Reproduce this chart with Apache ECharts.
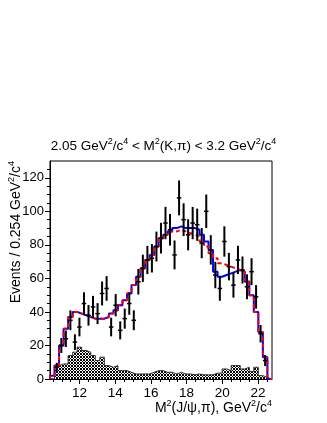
<!DOCTYPE html>
<html>
<head>
<meta charset="utf-8">
<title>M2(J/psi,pi)</title>
<style>
  html, body { margin: 0; padding: 0; background: #fff; }
  #main { width: 327px; height: 423px; }
</style>
</head>
<body>
<div id="main"></div>
<script src="https://cdn.jsdelivr.net/npm/echarts@6/dist/echarts.min.js"></script>
<script>
// binning of the histogram (GeV^2/c^4)
var binLow = 10.34;
var binWidth = 0.254;
var xMin = 10.34, xMax = 22.79;

// events per bin
var dataCounts = [0, 7, 20, 24, 35, 22, 31, 45, 38, 43, 39, 51, 54, 31, 44, 29, 36, 45, 35, 58,
                  66, 71, 72, 79, 84, 93, 89, 74, 108, 95, 86, 93, 92, 81, 100, 77, 62, 54, 82, 67,
                  56, 71, 65, 55, 64, 49, 27, 11, 0];
// total fit (blue, solid)
var fitBlue = [2, 8, 20, 30, 37, 40, 39, 38, 37, 36, 36, 36, 37, 39, 41, 44, 47, 51, 56, 61,
               66, 71, 74, 79, 84, 86, 88, 90, 91, 90, 90, 90, 89, 86, 82, 77, 64, 61, 62, 63,
               64, 65, 64, 58, 50, 40, 28, 13, 0];
// alternative fit (red, dashed)
var fitRed = [2, 8, 20, 30, 37, 40, 39, 38, 37, 36, 36, 36, 37, 39, 41, 44, 47, 51, 56, 61,
              66, 71, 74, 79, 84, 86, 88, 88, 89, 88, 87, 86, 85, 82, 79, 75, 72, 69, 68, 67,
              66, 65, 64, 59, 50, 40, 28, 13, 0];
// background (hatched)
var bkg = [0, 8, 9, 9, 14, 16, 19, 17, 16, 14, 11, 13, 8, 7, 8, 5, 5, 4, 3, 3,
           3, 3, 4, 5, 5, 4, 4, 3, 4, 3, 3, 2.5, 3, 2.5, 2.5, 2.5, 3.5, 3.5, 6, 5,
           8, 8, 6, 7, 4.5, 7, 2, 1, 0];

var xTicks = [12, 14, 16, 18, 20, 22];
var xMinorTicks = [10.5, 11, 11.5, 12.5, 13, 13.5, 14.5, 15, 15.5, 16.5, 17, 17.5,
                   18.5, 19, 19.5, 20.5, 21, 21.5, 22.5];
var yTicks = [0, 20, 40, 60, 80, 100, 120];
var yMinorTicks = [5, 10, 15, 25, 30, 35, 45, 50, 55, 65, 70, 75, 85, 90, 95, 105, 110, 115, 125];

var narrow = '"Liberation Sans Narrow", "Liberation Sans", Arial, sans-serif';
var sans = '"Liberation Sans", Arial, sans-serif';

// step line through bin edges
function stepData(vals) {
    var out = [[binLow, 0]];
    for (var i = 0; i < vals.length; i++) {
        out.push([binLow + i * binWidth, vals[i]]);
    }
    out.push([binLow + vals.length * binWidth, 0]);
    return out;
}

// fine cross hatch for the background
var hatch = document.createElement('canvas');
hatch.width = 3;
hatch.height = 3;
var hc = hatch.getContext('2d');
hc.fillStyle = '#fff';
hc.fillRect(0, 0, 3, 3);
hc.strokeStyle = '#000';
hc.lineWidth = 1;
hc.beginPath();
hc.moveTo(0, 0); hc.lineTo(3, 3);
hc.moveTo(3, 0); hc.lineTo(0, 3);
hc.stroke();

var points = [];
dataCounts.forEach(function (v, i) {
    if (v > 0) points.push([binLow + (i + 0.5) * binWidth, v]);
});

var supRich = {
    s: { fontSize: 9, verticalAlign: 'top', lineHeight: 18, fontFamily: sans }
};

var myChart = echarts.init(document.getElementById('main'));

myChart.setOption({
    animation: false,
    title: {
        text: '2.05 GeV{s|2}/c{s|4} < M{s|2}(K,π) < 3.2 GeV{s|2}/c{s|4}',
        left: 'center',
        top: 137,
        padding: 0,
        textStyle: {
            fontFamily: sans, fontSize: 13.5, fontWeight: 'normal', color: '#000',
            lineHeight: 18, rich: supRich
        }
    },
    grid: {
        left: 50, right: 55, top: 161, bottom: 44,
        show: true, borderColor: '#000', borderWidth: 1, backgroundColor: 'transparent'
    },
    xAxis: [{
        type: 'value', min: xMin, max: xMax,
        axisLine: { show: true, onZero: false, lineStyle: { color: '#000', width: 1 } },
        axisTick: { show: true, length: 5, customValues: xTicks, lineStyle: { color: '#000' } },
        axisLabel: {
            customValues: xTicks, color: '#000', fontFamily: narrow, fontSize: 13.5, margin: 7
        },
        splitLine: { show: false }
    }, {
        type: 'value', min: xMin, max: xMax, position: 'bottom',
        axisLine: { show: false },
        axisTick: { show: true, length: 3, customValues: xMinorTicks, lineStyle: { color: '#000' } },
        axisLabel: { show: false },
        splitLine: { show: false }
    }],
    yAxis: [{
        type: 'value', min: 0, max: 130,
        axisLine: { show: true, lineStyle: { color: '#000', width: 1 } },
        axisTick: { show: true, length: 5, customValues: yTicks, lineStyle: { color: '#000' } },
        axisLabel: {
            customValues: yTicks, color: '#000', fontFamily: narrow, fontSize: 13, margin: 6
        },
        splitLine: { show: false }
    }, {
        type: 'value', min: 0, max: 130, position: 'left',
        axisLine: { show: false },
        axisTick: { show: true, length: 3, customValues: yMinorTicks, lineStyle: { color: '#000' } },
        axisLabel: { show: false },
        splitLine: { show: false }
    }],
    graphic: [{
        type: 'text',
        x: 272, y: 399,
        style: {
            text: 'M{s|2}(J/ψ,π), GeV{s|2}/c{s|4}',
            align: 'right', textAlign: 'right',
            font: '14px ' + narrow, fill: '#000', lineHeight: 18,
            rich: supRich
        }
    }, {
        type: 'text',
        x: 7, y: 161,
        rotation: Math.PI / 2,
        style: {
            text: 'Events / 0.254 GeV{s|2}/c{s|4}',
            align: 'right', textAlign: 'right',
            font: '14px ' + sans, fill: '#000', lineHeight: 18,
            rich: supRich
        }
    }],
    series: [{
        name: 'background',
        type: 'line',
        step: 'end',
        symbol: 'none',
        data: stepData(bkg),
        lineStyle: { color: '#333', width: 1 },
        areaStyle: { color: { image: hatch, repeat: 'repeat' }, opacity: 1 },
        z: 2
    }, {
        name: 'fit',
        type: 'line',
        step: 'end',
        symbol: 'none',
        data: stepData(fitBlue),
        lineStyle: { color: '#0000ff', width: 2 },
        z: 3
    }, {
        name: 'fit2',
        type: 'line',
        step: 'end',
        symbol: 'none',
        data: stepData(fitRed),
        lineStyle: { color: '#ff0000', width: 2, type: [4, 3] },
        z: 4
    }, {
        name: 'data',
        type: 'custom',
        data: points,
        clip: true,
        z: 5,
        renderItem: function (params, api) {
            var x = api.value(0), y = api.value(1), e = Math.sqrt(y);
            var top = api.coord([x, y + e]);
            var bot = api.coord([x, y - e]);
            var l = api.coord([x - binWidth / 2, y]);
            var r = api.coord([x + binWidth / 2, y]);
            return {
                type: 'group',
                children: [{
                    type: 'line',
                    shape: { x1: top[0], y1: top[1], x2: bot[0], y2: bot[1] },
                    style: { stroke: '#000', lineWidth: 2 }
                }, {
                    type: 'line',
                    shape: { x1: l[0], y1: l[1], x2: r[0], y2: r[1] },
                    style: { stroke: '#000', lineWidth: 1.5 }
                }]
            };
        }
    }]
});
</script>
</body>
</html>
